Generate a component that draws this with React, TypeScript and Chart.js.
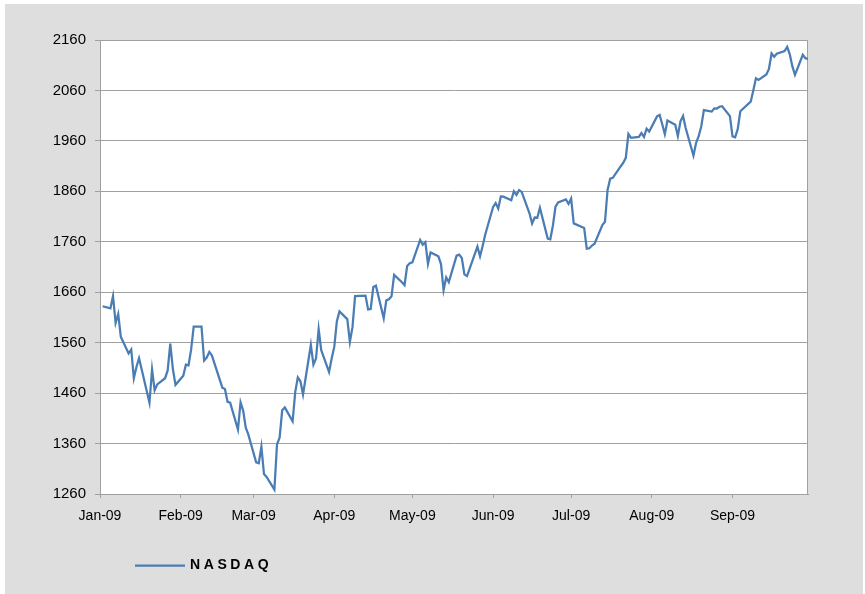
import React, { useEffect, useRef } from "react";
import { Chart, registerables } from "chart.js";

Chart.register(...registerables);

// ---- data ----
const SERIES_LABEL = "NASDAQ";

const DATES: string[] = [
  "2009-01-02","2009-01-05","2009-01-06","2009-01-07","2009-01-08","2009-01-09","2009-01-12","2009-01-13","2009-01-14","2009-01-15","2009-01-16","2009-01-20","2009-01-21","2009-01-22","2009-01-23","2009-01-26","2009-01-27","2009-01-28","2009-01-29","2009-01-30",
  "2009-02-02","2009-02-03","2009-02-04","2009-02-05","2009-02-06","2009-02-09","2009-02-10","2009-02-11","2009-02-12","2009-02-13","2009-02-17","2009-02-18","2009-02-19","2009-02-20","2009-02-23","2009-02-24","2009-02-25","2009-02-26","2009-02-27",
  "2009-03-02","2009-03-03","2009-03-04","2009-03-05","2009-03-06","2009-03-09","2009-03-10","2009-03-11","2009-03-12","2009-03-13","2009-03-16","2009-03-17","2009-03-18","2009-03-19","2009-03-20","2009-03-23","2009-03-24","2009-03-25","2009-03-26","2009-03-27","2009-03-30","2009-03-31",
  "2009-04-01","2009-04-02","2009-04-03","2009-04-06","2009-04-07","2009-04-08","2009-04-09","2009-04-13","2009-04-14","2009-04-15","2009-04-16","2009-04-17","2009-04-20","2009-04-21","2009-04-22","2009-04-23","2009-04-24","2009-04-27","2009-04-28","2009-04-29","2009-04-30",
  "2009-05-01","2009-05-04","2009-05-05","2009-05-06","2009-05-07","2009-05-08","2009-05-11","2009-05-12","2009-05-13","2009-05-14","2009-05-15","2009-05-18","2009-05-19","2009-05-20","2009-05-21","2009-05-22","2009-05-26","2009-05-27","2009-05-28","2009-05-29",
  "2009-06-01","2009-06-02","2009-06-03","2009-06-04","2009-06-05","2009-06-08","2009-06-09","2009-06-10","2009-06-11","2009-06-12","2009-06-15","2009-06-16","2009-06-17","2009-06-18","2009-06-19","2009-06-22","2009-06-23","2009-06-24","2009-06-25","2009-06-26","2009-06-29","2009-06-30",
  "2009-07-01","2009-07-02","2009-07-06","2009-07-07","2009-07-08","2009-07-09","2009-07-10","2009-07-13","2009-07-14","2009-07-15","2009-07-16","2009-07-17","2009-07-20","2009-07-21","2009-07-22","2009-07-23","2009-07-24","2009-07-27","2009-07-28","2009-07-29","2009-07-30","2009-07-31",
  "2009-08-03","2009-08-04","2009-08-05","2009-08-06","2009-08-07","2009-08-10","2009-08-11","2009-08-12","2009-08-13","2009-08-14","2009-08-17","2009-08-18","2009-08-19","2009-08-20","2009-08-21","2009-08-24","2009-08-25","2009-08-26","2009-08-27","2009-08-28","2009-08-31",
  "2009-09-01","2009-09-02","2009-09-03","2009-09-04","2009-09-08","2009-09-09","2009-09-10","2009-09-11","2009-09-14","2009-09-15","2009-09-16","2009-09-17","2009-09-18","2009-09-21","2009-09-22","2009-09-23","2009-09-24","2009-09-25","2009-09-28","2009-09-29","2009-09-30",
];

const NASDAQ: number[] = [
  1632.2,1628.0,1652.4,1599.1,1617.0,1571.6,1538.8,1546.5,1489.6,1511.8,1529.3,1440.9,1507.1,1465.5,1477.3,1489.5,1504.9,1558.3,1507.8,1476.4,
  1494.4,1516.3,1515.1,1546.2,1591.7,1591.6,1524.7,1530.5,1541.7,1534.4,1470.7,1468.0,1442.8,1441.2,1387.7,1441.8,1425.4,1391.5,1377.8,
  1322.9,1321.0,1353.7,1299.6,1293.9,1268.6,1358.3,1371.6,1426.1,1431.5,1404.0,1462.1,1491.2,1483.5,1457.3,1555.8,1516.5,1529.0,1587.0,1545.2,1501.8,1528.6,
  1551.6,1602.6,1621.9,1606.7,1561.6,1590.7,1652.5,1653.3,1625.7,1626.8,1670.4,1673.1,1608.2,1643.9,1646.1,1652.2,1694.3,1679.7,1673.8,1711.8,1717.3,
  1719.2,1763.6,1754.1,1759.1,1716.2,1739.0,1731.2,1715.9,1664.2,1689.2,1680.1,1732.4,1734.5,1727.8,1695.3,1692.0,1750.4,1731.1,1751.8,1774.3,
  1828.7,1836.8,1825.9,1850.0,1849.4,1842.4,1860.1,1853.1,1862.4,1858.8,1816.4,1796.2,1808.1,1807.7,1827.5,1766.2,1764.9,1792.3,1829.5,1838.2,1844.1,1835.0,
  1845.7,1796.5,1787.4,1746.2,1747.2,1752.6,1756.0,1793.2,1799.7,1862.9,1885.0,1886.6,1909.3,1916.2,1926.4,1973.6,1966.0,1967.9,1975.5,1967.8,1984.3,1978.5,
  2008.6,2011.3,1993.1,1973.2,2000.3,1992.2,1969.7,1998.7,2009.4,1985.5,1930.8,1955.9,1969.2,1989.2,2020.9,2018.0,2024.4,2024.2,2027.7,2028.8,2009.1,
  1968.9,1967.1,1983.2,2018.8,2037.8,2060.4,2084.0,2080.9,2091.8,2102.6,2133.2,2126.8,2132.9,2138.0,2146.3,2131.4,2107.6,2090.9,2130.7,2124.0,2122.4,
];

const MONTH_TICKS: string[] = [
  "2009-01-01","2009-02-01","2009-03-01","2009-04-01","2009-05-01","2009-06-01","2009-07-01","2009-08-01","2009-09-01",
];
const MONTH_LABELS: string[] = [
  "Jan-09","Feb-09","Mar-09","Apr-09","May-09","Jun-09","Jul-09","Aug-09","Sep-09",
];
const AXIS_START = "2009-01-01";
const AXIS_END = "2009-09-30";

const Y_MIN = 1260;
const Y_MAX = 2160;
const Y_STEP = 100;

// ---- helpers ----
const dayIndex = (s: string) => {
  const [y, m, d] = s.split("-").map(Number);
  const [y0, m0, d0] = AXIS_START.split("-").map(Number);
  return (Date.UTC(y, m - 1, d) - Date.UTC(y0, m0 - 1, d0)) / 86400000;
};

const FONT = "'Liberation Sans', Arial, sans-serif";
const LINE_COLOR = "#4a7db3";
const GRID_COLOR = "#a0a0a0";
const PANEL_COLOR = "#dedede";

const backgroundPlugin = {
  id: "bgPanel",
  beforeDraw(chart: any) {
    const { ctx, width, height, chartArea } = chart;
    ctx.save();
    ctx.fillStyle = "#ffffff";
    ctx.fillRect(0, 0, width, height);
    ctx.fillStyle = PANEL_COLOR;
    ctx.fillRect(5, 4, width - 7, height - 4);
    ctx.fillStyle = "#ffffff";
    ctx.fillRect(chartArea.left, chartArea.top, chartArea.right - chartArea.left, chartArea.bottom - chartArea.top);
    ctx.restore();
  },
};

const framePlugin = {
  id: "frame",
  beforeDatasetsDraw(chart: any) {
    const { ctx, chartArea } = chart;
    ctx.save();
    ctx.strokeStyle = GRID_COLOR;
    ctx.lineWidth = 1;
    ctx.beginPath();
    ctx.moveTo(Math.round(chartArea.right) - 0.5, chartArea.top);
    ctx.lineTo(Math.round(chartArea.right) - 0.5, chartArea.bottom);
    ctx.stroke();
    ctx.restore();
  },
};

const legendPlugin = {
  id: "spacedLegend",
  afterDraw(chart: any) {
    const { ctx, chartArea } = chart;
    const ds = chart.data.datasets[0];
    const y = chartArea.bottom + 71.5;
    const x0 = chartArea.left + 35;
    ctx.save();
    ctx.strokeStyle = ds.borderColor;
    ctx.lineWidth = 2.25;
    ctx.beginPath();
    ctx.moveTo(x0, y);
    ctx.lineTo(x0 + 50, y);
    ctx.stroke();
    ctx.fillStyle = "#000000";
    ctx.font = `bold 14px ${FONT}`;
    (ctx as any).letterSpacing = "3.6px";
    ctx.textAlign = "left";
    ctx.textBaseline = "middle";
    ctx.fillText(ds.label, x0 + 55, y);
    ctx.restore();
  },
};

export default function App() {
  const canvasRef = useRef<HTMLCanvasElement | null>(null);

  useEffect(() => {
    const canvas = canvasRef.current;
    if (!canvas) return;
    const points = DATES.map((d, i) => ({ x: dayIndex(d), y: NASDAQ[i] }));
    const monthPos = MONTH_TICKS.map(dayIndex);

    const chart = new Chart(canvas, {
      type: "line",
      data: {
        datasets: [
          {
            label: SERIES_LABEL,
            data: points,
            borderColor: LINE_COLOR,
            backgroundColor: LINE_COLOR,
            borderWidth: 2.25,
            pointRadius: 0,
            tension: 0,
            fill: false,
          },
        ],
      },
      options: {
        animation: false,
        responsive: false,
        devicePixelRatio: 1,
        layout: { padding: { left: 0, top: 40, right: 57, bottom: 40 } },
        plugins: {
          legend: { display: false },
          tooltip: { enabled: false },
        },
        scales: {
          x: {
            type: "linear",
            min: dayIndex(AXIS_START),
            max: dayIndex(AXIS_END),
            afterBuildTicks(scale: any) {
              scale.ticks = monthPos.map((v) => ({ value: v }));
            },
            afterFit(scale: any) {
              scale.height = 60;
            },
            ticks: {
              autoSkip: false,
              maxRotation: 0,
              minRotation: 0,
              padding: 10,
              color: "#000000",
              font: { family: FONT, size: 14 },
              callback: (value: any) => {
                const idx = monthPos.indexOf(Number(value));
                return idx >= 0 ? MONTH_LABELS[idx] : "";
              },
            },
            grid: {
              display: true,
              drawOnChartArea: false,
              drawTicks: true,
              tickLength: 4,
              color: GRID_COLOR,
            },
            border: { display: true, color: GRID_COLOR, width: 1 },
          },
          y: {
            type: "linear",
            min: Y_MIN,
            max: Y_MAX,
            afterFit(scale: any) {
              scale.width = 100;
            },
            ticks: {
              stepSize: Y_STEP,
              padding: 9,
              color: "#000000",
              font: { family: FONT, size: 15 },
              callback: (value: any) => String(value),
            },
            grid: {
              display: true,
              drawOnChartArea: true,
              drawTicks: true,
              tickLength: 5,
              color: GRID_COLOR,
              lineWidth: 1,
            },
            border: { display: true, color: GRID_COLOR, width: 1 },
          },
        },
      },
      plugins: [backgroundPlugin, framePlugin, legendPlugin],
    });
    return () => chart.destroy();
  }, []);

  return (
    <div style={{ position: "absolute", left: 0, top: 0, width: 865, height: 594, background: "#ffffff" }}>
      <canvas ref={canvasRef} width={865} height={594} style={{ width: 865, height: 594, display: "block" }} />
    </div>
  );
}
